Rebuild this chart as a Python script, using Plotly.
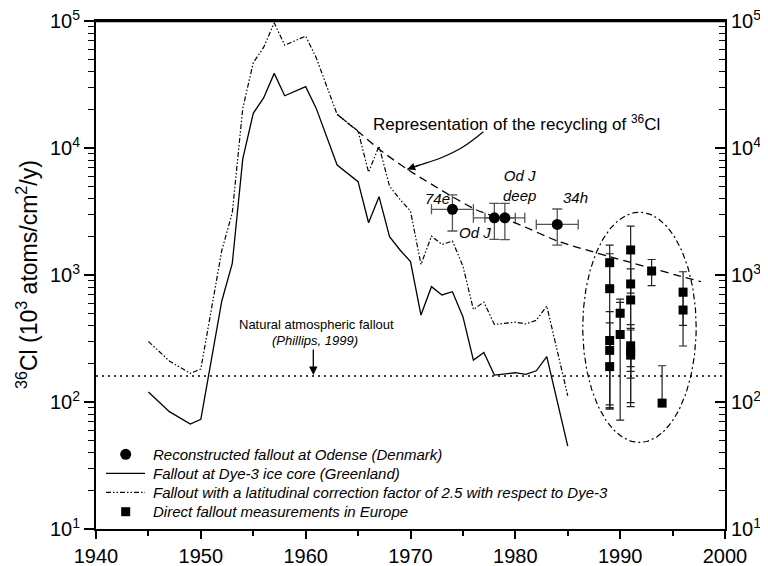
import numpy as np
import plotly.graph_objects as go

# ---------------- data ----------------
years_dye3 = [1945, 1947, 1949, 1950, 1952, 1953, 1954, 1955, 1956, 1957, 1958, 1960, 1961,
              1963, 1965, 1966, 1967, 1968, 1969, 1970, 1971, 1972, 1973, 1974, 1975, 1976,
              1977, 1978, 1980, 1981, 1982, 1983, 1985]
fallout_dye3 = [120, 84, 67, 73, 624, 1236, 8200, 18750, 24900, 38700, 25800, 30400, 20600,
                7350, 5430, 2580, 4140, 2005, 1573, 1275, 484, 809, 696, 739, 470, 214,
                245, 163, 170, 165, 176, 228, 45]

years_corr = [1945, 1947, 1949, 1950, 1952, 1953, 1954, 1955, 1956, 1957, 1958, 1960, 1961,
              1963, 1965, 1966, 1967, 1968, 1969, 1970, 1971, 1972, 1973, 1974, 1975, 1976,
              1977, 1978, 1980, 1981, 1982, 1983, 1985]
fallout_corr = [300, 210, 168, 182, 1560, 3090, 20500, 46900, 62200, 96700, 64500, 76000, 51500,
                18400, 13600, 6450, 10350, 5010, 3930, 3190, 1210, 2020, 1740, 1850, 1175, 535,
                612, 408, 425, 412, 440, 570, 112]

rec_years = [1974, 1978, 1979, 1984]
rec_values = [3290, 2820, 2820, 2500]
rec_xerr = [2, 2, 1.9, 2]
rec_yerr_plus = [980, 850, 840, 810]
rec_yerr_minus = [1070, 910, 920, 780]
rec_labels = ["74e", "Od J", "Od J<br>deep", "34h"]
rec_label_shift_x = [-15, -19, 15, 18]
rec_label_shift_y = [11, -15, 32, 27]

eu_years = [1989, 1989, 1989, 1989, 1989, 1990, 1990, 1991, 1991, 1991, 1991, 1991, 1991,
            1993, 1994, 1996, 1996]
eu_values = [1250, 780, 305, 255, 190, 500, 340, 1575, 850, 636, 277, 249, 234,
             1075, 98, 731, 530]
eu_err_plus = [470, 690, 210, 165, 102, 145, 268, 855, 660, 482, 103, 157, 135,
               250, 95, 330, 254]
eu_err_minus = [470, 690, 210, 165, 102, 145, 268, 855, 660, 482, 103, 157, 135,
                250, 0, 330, 254]

recycle_years = [1963, 1965.2, 1967.1, 1969.7, 1976.3, 1980.1, 1984.2, 1997.7]
recycle_values = [18400, 13060, 9640, 6790, 3250, 2550, 1830, 885]

natural_fallout = 160

x_ticks = [1940, 1950, 1960, 1970, 1980, 1990, 2000]
x_minor = [1945, 1955, 1965, 1975, 1985, 1995]
y_ticks = [10, 100, 1000, 10000, 100000]
y_ticktext = ["10<sup>1</sup>", "10<sup>2</sup>", "10<sup>3</sup>", "10<sup>4</sup>", "10<sup>5</sup>"]
y_minor = [m * 10 ** e for e in range(1, 5) for m in range(2, 10)]

legend_labels = [
    "Reconstructed fallout at Odense (Denmark)",
    "Fallout at Dye-3 ice core (Greenland)",
    "Fallout with a latitudinal correction factor of 2.5 with respect to Dye-3",
    "Direct fallout measurements in Europe",
]

# curved arrow (recycling annotation) path points
arrow_years = [1976.95, 1975.04, 1972.82, 1970.91, 1969.70]
arrow_values = [13430, 10230, 8300, 7350, 6790]

FONT = "Liberation Sans, Arial, Helvetica, sans-serif"
# the page body has an 8px margin, so the figure is 8px smaller than the window
W, H = 760, 558
ML, MR, MT, MB = 88, 43, 13, 37
PW, PH = W - ML - MR, H - MT - MB
PAGE_OFF = 8


def px(xp):
    """page pixel x -> paper fraction"""
    return (xp - PAGE_OFF - ML) / PW


def py(yp):
    """page pixel y -> paper fraction"""
    return (PAGE_OFF + H - MB - yp) / PH


DASHDOTDOT = "5px,2px,1.5px,2px,1.5px,2px"

fig = go.Figure()

fig.add_trace(go.Scatter(
    x=rec_years, y=rec_values, mode="markers", name=legend_labels[0],
    marker=dict(symbol="circle", size=11, color="black"),
    error_x=dict(type="data", array=rec_xerr, color="#555", thickness=1.3, width=5),
    error_y=dict(type="data", symmetric=False, array=rec_yerr_plus,
                 arrayminus=rec_yerr_minus, color="#555", thickness=1.3, width=5),
))

fig.add_trace(go.Scatter(
    x=years_dye3, y=fallout_dye3, mode="lines", name=legend_labels[1],
    line=dict(color="black", width=1.3),
))

fig.add_trace(go.Scatter(
    x=years_corr, y=fallout_corr, mode="lines", name=legend_labels[2],
    line=dict(color="black", width=1.2, dash=DASHDOTDOT),
))

fig.add_trace(go.Scatter(
    x=eu_years, y=eu_values, mode="markers", name=legend_labels[3],
    marker=dict(symbol="square", size=9, color="black"),
    error_y=dict(type="data", symmetric=False, array=eu_err_plus,
                 arrayminus=eu_err_minus, color="#222", thickness=1.2, width=4),
))

# recycling dashed curve
fig.add_trace(go.Scatter(
    x=recycle_years, y=recycle_values, mode="lines", hoverinfo="skip",
    line=dict(color="black", width=1.3, dash="8px,5px", shape="spline", smoothing=0.6),
))

# natural fallout dotted line
fig.add_trace(go.Scatter(
    x=[1940, 2000], y=[natural_fallout, natural_fallout], mode="lines", hoverinfo="skip",
    line=dict(color="black", width=1.5, dash="2px,4px"),
))

# ellipse around European measurements
t = np.linspace(0, 2 * np.pi, 240)
ell_cx, ell_rx = 1991.84, 5.41
ell_cy, ell_ry = 2.588, 0.906
fig.add_trace(go.Scatter(
    x=ell_cx + ell_rx * np.cos(t), y=10 ** (ell_cy + ell_ry * np.sin(t)),
    mode="lines", hoverinfo="skip",
    line=dict(color="black", width=1.2, dash="6px,3px,2px,3px"),
))

# curved arrow body
fig.add_trace(go.Scatter(
    x=arrow_years, y=arrow_values, mode="lines", hoverinfo="skip",
    line=dict(color="black", width=1.2, shape="spline"),
))

# dummy trace for right axis
fig.add_trace(go.Scatter(x=[1940], y=[10], yaxis="y2", mode="markers",
                         marker=dict(opacity=0), hoverinfo="skip"))

annotations = []
for yr, v, lab, sx, sy in zip(rec_years, rec_values, rec_labels, rec_label_shift_x, rec_label_shift_y):
    annotations.append(dict(
        x=yr, y=np.log10(v), xref="x", yref="y", text=lab, showarrow=False,
        xanchor="center", yanchor="middle",
        xshift=sx, yshift=sy, font=dict(family=FONT, size=15, style="italic", color="black"),
    ))

annotations += [
    dict(x=px(516.7), y=py(122.7), xref="paper", yref="paper", showarrow=False,
         xanchor="center", yanchor="middle",
         text="Representation of the recycling of <sup>36</sup>Cl",
         font=dict(family=FONT, size=17, color="black")),
    dict(x=px(407.3), y=py(169.3), xref="paper", yref="paper", text="", showarrow=True,
         ax=14, ay=-5, arrowhead=2, arrowsize=1.3, arrowwidth=1.2, arrowcolor="black"),
    dict(x=px(316), y=py(324), xref="paper", yref="paper", showarrow=False,
         xanchor="center", yanchor="middle",
         text="Natural atmospheric fallout",
         font=dict(family=FONT, size=13, color="black")),
    dict(x=px(315), y=py(340.7), xref="paper", yref="paper", showarrow=False,
         xanchor="center", yanchor="middle",
         text="(Phillips, 1999)",
         font=dict(family=FONT, size=13, style="italic", color="black")),
    dict(x=px(313.3), y=py(375), xref="paper", yref="paper", text="", showarrow=True,
         ax=0, ay=-27, arrowhead=2, arrowsize=1.3, arrowwidth=1.3, arrowcolor="black"),
    dict(x=px(27), y=0.5, xref="paper", yref="paper", showarrow=False, textangle=-90,
         xanchor="center", yanchor="middle",
         text="<sup>36</sup>Cl (10<sup>3</sup> atoms/cm<sup>2</sup>/y)",
         font=dict(family=FONT, size=23, color="black")),
]

# custom legend
leg_y = [454.3, 473.3, 492.3, 511.7]
for lab, ly in zip(legend_labels, leg_y):
    annotations.append(dict(
        x=px(150.7), y=py(ly), xref="paper", yref="paper", showarrow=False,
        xanchor="left", yanchor="middle", text=lab,
        font=dict(family=FONT, size=15, style="italic", color="black"),
    ))

shapes = [
    # top frame line (drawn as a thin filled rectangle just under the top edge)
    dict(type="rect", xref="paper", yref="paper", x0=0, x1=1,
         y0=py(22.2), y1=py(20.2), layer="above",
         fillcolor="black", line=dict(width=0)),
    dict(type="circle", xref="paper", yref="paper",
         x0=px(125.7 - 5.5), x1=px(125.7 + 5.5), y0=py(leg_y[0] + 5.5), y1=py(leg_y[0] - 5.5),
         fillcolor="black", line=dict(color="black", width=0)),
    dict(type="line", xref="paper", yref="paper",
         x0=px(106), x1=px(145), y0=py(leg_y[1]), y1=py(leg_y[1]),
         line=dict(color="black", width=1.3)),
    dict(type="line", xref="paper", yref="paper",
         x0=px(106), x1=px(145), y0=py(leg_y[2]), y1=py(leg_y[2]),
         line=dict(color="black", width=1.2, dash=DASHDOTDOT)),
    dict(type="rect", xref="paper", yref="paper",
         x0=px(125.7 - 4.5), x1=px(125.7 + 4.5), y0=py(leg_y[3] + 4.5), y1=py(leg_y[3] - 4.5),
         fillcolor="black", line=dict(color="black", width=0)),
]

yaxis_common = dict(
    type="log", range=[0.99995, 5.00005], tickmode="array", tickvals=y_ticks, ticktext=y_ticktext,
    showline=True, linewidth=2, linecolor="black", showgrid=False, zeroline=False,
    tickwidth=1.5, tickcolor="black", tickfont=dict(family=FONT, size=20, color="black"),
    ticklabeloverflow="allow",
)

fig.update_layout(
    width=W, height=H,
    margin=dict(l=ML, r=MR, t=MT, b=MB, autoexpand=False),
    paper_bgcolor="white", plot_bgcolor="white",
    font=dict(family=FONT, color="black"),
    showlegend=False,
    xaxis=dict(
        range=[1940, 2000], tickmode="array", tickvals=x_ticks,
        ticks="outside", ticklen=8, tickwidth=1.5, tickcolor="black",
        showline=True, linewidth=2, linecolor="black", mirror=True,
        showgrid=False, zeroline=False, ticklabeloverflow="allow",
        tickfont=dict(family=FONT, size=20, color="black"),
        minor=dict(tickmode="array", tickvals=x_minor, ticks="outside", ticklen=5,
                   tickwidth=1.5, tickcolor="black", showgrid=False),
    ),
    yaxis=dict(**yaxis_common, side="left", ticks="outside", ticklen=10,
               minor=dict(tickmode="array", tickvals=y_minor, ticks="outside", ticklen=6,
                          tickwidth=1.3, tickcolor="black", showgrid=False)),
    yaxis2=dict(**yaxis_common, side="right", overlaying="y", anchor="x",
                ticks="inside", ticklen=10,
                minor=dict(tickmode="array", tickvals=y_minor, ticks="inside", ticklen=6,
                           tickwidth=1.3, tickcolor="black", showgrid=False)),
    annotations=annotations,
    shapes=shapes,
)

fig.write_html("out.html")
